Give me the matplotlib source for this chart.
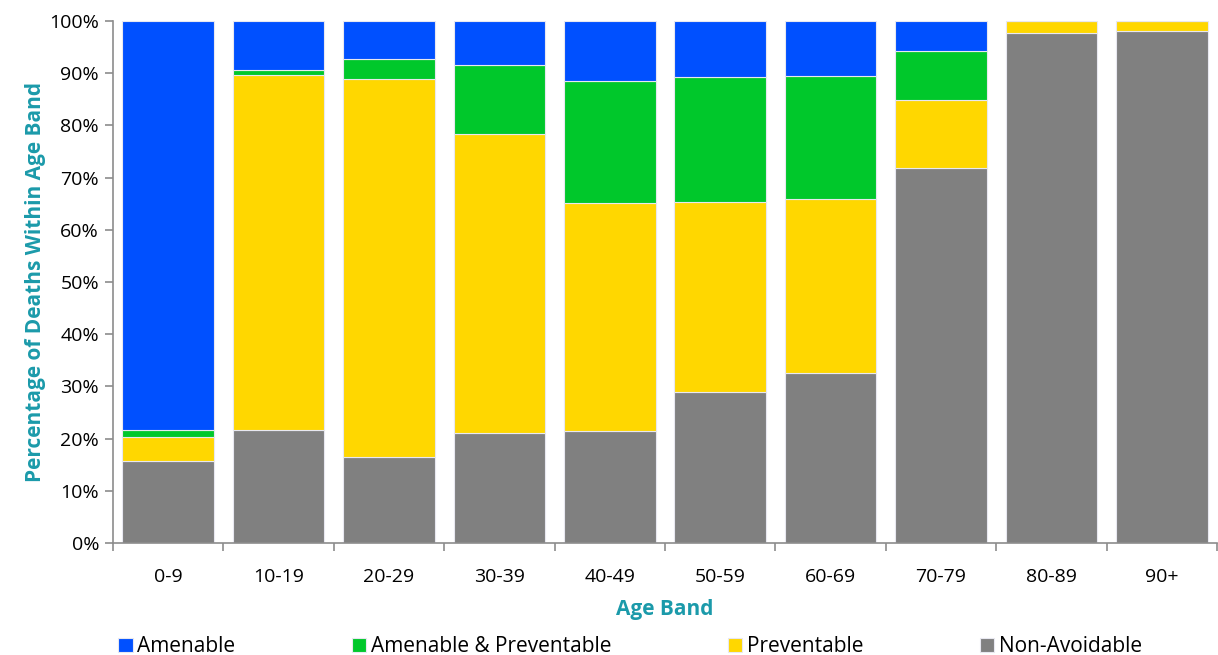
import matplotlib
matplotlib.use('agg')
import matplotlib.pyplot as plt
import numpy as np
from matplotlib.ticker import PercentFormatter

age_bands = ['0-9', '10-19', '20-29', '30-39', '40-49', '50-59', '60-69', '70-79', '80-89', '90+']
non_avoidable = [15.7, 21.6, 16.5, 21.1, 21.5, 28.9, 32.6, 71.8, 97.7, 98.1]
preventable = [4.7, 68.1, 72.4, 57.2, 43.6, 36.4, 33.3, 13.1, 2.3, 1.9]
amenable_preventable = [1.2, 1.0, 3.8, 13.3, 23.4, 24.0, 23.6, 9.4, 0.0, 0.0]
amenable = [78.4, 9.3, 7.3, 8.4, 11.5, 10.7, 10.5, 5.7, 0.0, 0.0]

teal = '#1B9AAA'
plt.rcParams['font.family'] = ['Open Sans', 'DejaVu Sans']

fig = plt.figure(figsize=(12.18, 6.55), dpi=100)
ax = fig.add_axes([113 / 1218, 112 / 655, 1104 / 1218, 522 / 655])

x = np.arange(len(age_bands))
w = 0.83
edge = dict(edgecolor='#E8E8F0', linewidth=0.8)
bottom = np.zeros(len(x))
series = [
    (non_avoidable, '#808080', 'Non-Avoidable'),
    (preventable, '#FFD700', 'Preventable'),
    (amenable_preventable, '#00C82B', 'Amenable & Preventable'),
    (amenable, '#0050FF', 'Amenable'),
]
handles = {}
for vals, col, name in series:
    vals = np.array(vals)
    handles[name] = ax.bar(x, vals, w, bottom=bottom, color=col, label=name, **edge)
    bottom += vals

ax.set_xlim(-0.5, len(x) - 0.5)
ax.set_ylim(0, 100)
ax.set_yticks(np.arange(0, 101, 10))
ax.yaxis.set_major_formatter(PercentFormatter(decimals=0))
ax.set_xticks(x)
ax.set_xticklabels(age_bands)
ax.set_xticks(np.arange(-0.5, len(x)), minor=True)
ax.tick_params(axis='x', which='major', length=0, pad=18, labelsize=14)
ax.tick_params(axis='x', which='minor', length=6, color='#8C8C8C', width=1.2)
ax.tick_params(axis='y', length=6, color='#8C8C8C', width=1.2, labelsize=14, pad=4)
for s in ['top', 'right']:
    ax.spines[s].set_visible(False)
for s in ['left', 'bottom']:
    ax.spines[s].set_color('#8C8C8C')
    ax.spines[s].set_linewidth(1.2)

ax.set_ylabel('Percentage of Deaths Within Age Band', color=teal, fontsize=15,
              fontweight='bold', labelpad=2)
ax.set_xlabel('Age Band', color=teal, fontsize=15, fontweight='bold', labelpad=9)

order = ['Amenable', 'Amenable & Preventable', 'Preventable', 'Non-Avoidable']
fig.legend([handles[n] for n in order], order, loc='lower left', ncol=4, mode='expand',
           bbox_to_anchor=(110 / 1218, -0.016, 1040 / 1218, 0.05), frameon=False,
           fontsize=15, handlelength=0.7, handleheight=0.7, handletextpad=0.2,
           borderaxespad=0)

fig.savefig('out.png', dpi=100)
